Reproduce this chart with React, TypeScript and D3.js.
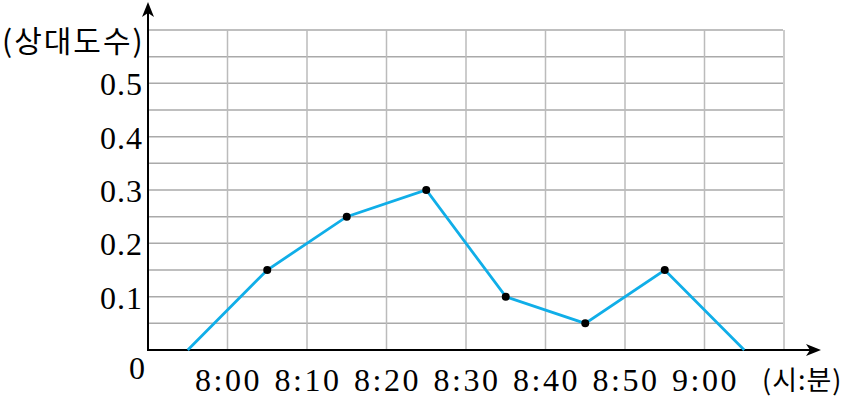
import React from "react";
import * as d3 from "d3";

const gridMinutes = [0, 10, 20, 30, 40, 50, 60, 70, 80];
const tickLabels = ["8:00", "8:10", "8:20", "8:30", "8:40", "8:50", "9:00"];
const tickMinutes = [10, 20, 30, 40, 50, 60, 70];
const pointMinutes = [5, 15, 25, 35, 45, 55, 65, 75];
const freq = [0, 0.15, 0.25, 0.3, 0.1, 0.05, 0.15, 0];
const yTicks = [0.1, 0.2, 0.3, 0.4, 0.5];
const yGrid = [0.05, 0.1, 0.15, 0.2, 0.25, 0.3, 0.35, 0.4, 0.45, 0.5, 0.55, 0.6];

export default function App() {
  const width = 857;
  const height = 398;
  const x = d3.scaleLinear().domain([0, 80]).range([148, 784]);
  const y = d3.scaleLinear().domain([0, 0.6]).range([350, 30]);

  const line = d3
    .line<number>()
    .x((_, i) => x(pointMinutes[i]))
    .y((d) => y(d));

  const serif = "'Liberation Serif', 'DejaVu Serif', serif";
  const kr = "'Noto Sans CJK KR', sans-serif";

  return (
    <svg width={width} height={height} style={{ position: "absolute", left: 0, top: 0 }}>
      <rect width={width} height={height} fill="#fff" />
      {yGrid.map((v, i) => (
        <line key={"h" + i} x1={148} x2={783} y1={y(v)} y2={y(v)} stroke="#aaa" strokeWidth={1.5} />
      ))}
      {gridMinutes.slice(1).map((m, i) => (
        <line key={"v" + i} x1={x(m)} x2={x(m)} y1={30} y2={350} stroke="#bbb" strokeWidth={1.5} />
      ))}
      {/* axes */}
      <line x1={148} x2={148} y1={351} y2={10} stroke="#000" strokeWidth={2} />
      <path d="M148,2 L142,17 L148,13 L154,17 Z" fill="#000" />
      <line x1={147} x2={815} y1={350} y2={350} stroke="#000" strokeWidth={2} />
      <path d="M821,350 L806,344 L810,350 L806,356 Z" fill="#000" />

      <path d={line(freq) ?? ""} fill="none" stroke="#10aee8" strokeWidth={2.8} />
      {freq.map((d, i) =>
        d > 0 ? <circle key={i} cx={x(pointMinutes[i])} cy={y(d)} r={4} fill="#000" /> : null
      )}

      {yTicks.map((v) => (
        <text
          key={v}
          x={143}
          y={y(v) + 1}
          textAnchor="end"
          dominantBaseline="central"
          fontFamily={serif}
          fontSize={32}
          letterSpacing={1}
        >
          {v.toFixed(1)}
        </text>
      ))}
      <text x={137} y={368} textAnchor="middle" dominantBaseline="central" fontFamily={serif} fontSize={32}>
        0
      </text>
      <text x={2} y={39} dominantBaseline="central" fontFamily={kr} fontSize={30} letterSpacing={2}>
        (상대도수)
      </text>

      {tickLabels.map((t, i) => (
        <text
          key={t}
          x={x(tickMinutes[i]) + 1}
          y={380}
          textAnchor="middle"
          dominantBaseline="central"
          fontFamily={serif}
          fontSize={32}
          letterSpacing={2.5}
        >
          {t}
        </text>
      ))}
      <text x={762} y={378} dominantBaseline="central" fontFamily={kr} fontSize={27} letterSpacing={1}>
        (시:분)
      </text>
    </svg>
  );
}
